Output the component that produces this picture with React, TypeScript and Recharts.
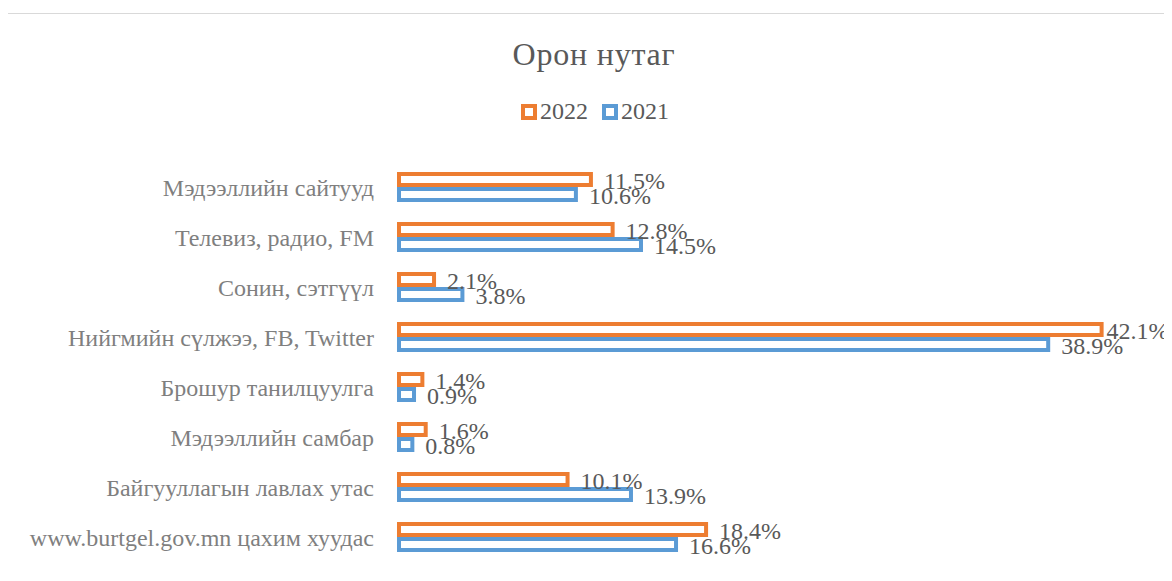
import { Bar, BarChart, LabelList, XAxis, YAxis } from "recharts";

// категориуд (дээрээс доош)
const CATEGORIES = [
  "Мэдээллийн сайтууд",
  "Телевиз, радио, FM",
  "Сонин, сэтгүүл",
  "Нийгмийн сүлжээ, FB, Twitter",
  "Брошур танилцуулга",
  "Мэдээллийн самбар",
  "Байгууллагын лавлах утас",
  "www.burtgel.gov.mn цахим хуудас",
];

const VALUES_2022 = [11.5, 12.8, 2.1, 42.1, 1.4, 1.6, 10.1, 18.4];
const VALUES_2021 = [10.6, 14.5, 3.8, 38.9, 0.9, 0.8, 13.9, 16.6];

const SERIES = [
  { key: "y2022", name: "2022", color: "#ED7D31" },
  { key: "y2021", name: "2021", color: "#5B9BD5" },
];

const data = CATEGORIES.map((name, i) => ({
  name,
  y2022: VALUES_2022[i],
  y2021: VALUES_2021[i],
}));

const FONT = '"Liberation Serif", "DejaVu Serif", serif';
const LABEL_SIZE = 24;
const RIGHT_LIMIT = 1160; // шошго үүнээс хэтрэхгүй

const fmt = (v: any) => `${Number(v).toFixed(1)}%`;

// текстийн өргөнийг ойролцоогоор тооцох
const textWidth = (s: string, size: number) => {
  let w = 0;
  for (const ch of s) {
    if (ch === ".") w += 0.25;
    else if (ch === "%") w += 0.833;
    else w += 0.5;
  }
  return w * size;
};

// утгын шошго, баруун хязгаарт багтаана
const ValueLabel = (props: any) => {
  const { x, y, width, height, value } = props;
  const text = fmt(value);
  const w = textWidth(text, LABEL_SIZE);
  let tx = x + width + 13;
  if (tx + w > RIGHT_LIMIT) tx = Math.max(x + width + 5, RIGHT_LIMIT - w);
  return (
    <text
      x={tx}
      y={y + height / 2}
      dy="0.38em"
      fill="#595959"
      fontSize={LABEL_SIZE}
      fontFamily={FONT}
    >
      {text}
    </text>
  );
};

export default function App() {
  return (
    <div
      style={{
        position: "relative",
        left: -4,
        top: 5,
        width: 1172,
        height: 575,
        borderTop: "1px solid #d9d9d9",
        borderLeft: "2px solid #d9d9d9",
        fontFamily: FONT,
        background: "#fff",
      }}
    >
      {/* гарчиг */}
      <div
        style={{
          position: "absolute",
          top: 22,
          left: 0,
          width: 1176,
          textAlign: "center",
          fontSize: 32,
          color: "#595959",
          letterSpacing: 0.8,
        }}
      >
        Орон нутаг
      </div>

      {/* тайлбар */}
      <div
        style={{
          position: "absolute",
          top: 84,
          left: 515,
          display: "flex",
          alignItems: "center",
          fontSize: 24,
          color: "#595959",
        }}
      >
        {SERIES.map((s) => (
          <div
            key={s.key}
            style={{ display: "flex", alignItems: "center", marginRight: 14 }}
          >
            <span
              style={{
                display: "inline-block",
                width: 8,
                height: 8,
                border: `4px solid ${s.color}`,
                background: "#fff",
                marginRight: 3,
              }}
            />
            <span>{s.name}</span>
          </div>
        ))}
      </div>

      <div style={{ position: "absolute", top: 0, left: 0 }}>
        <BarChart
          width={1172}
          height={575}
          data={data}
          layout="vertical"
          margin={{ top: 148, right: 28, bottom: 27, left: 0 }}
          barSize={11}
          barGap={4}
        >
          <XAxis type="number" domain={[0, 45]} hide />
          <YAxis
            type="category"
            dataKey="name"
            width={393}
            axisLine={false}
            tickLine={false}
            tickSize={0}
            tickMargin={25}
            tick={{ fill: "#7F7F7F", fontSize: 24, fontFamily: FONT }}
            interval={0}
          />
          {SERIES.map((s) => (
            <Bar
              key={s.key}
              dataKey={s.key}
              name={s.name}
              fill="#ffffff"
              stroke={s.color}
              strokeWidth={4}
              isAnimationActive={false}
            >
              <LabelList dataKey={s.key} content={<ValueLabel />} />
            </Bar>
          ))}
        </BarChart>
      </div>
    </div>
  );
}
